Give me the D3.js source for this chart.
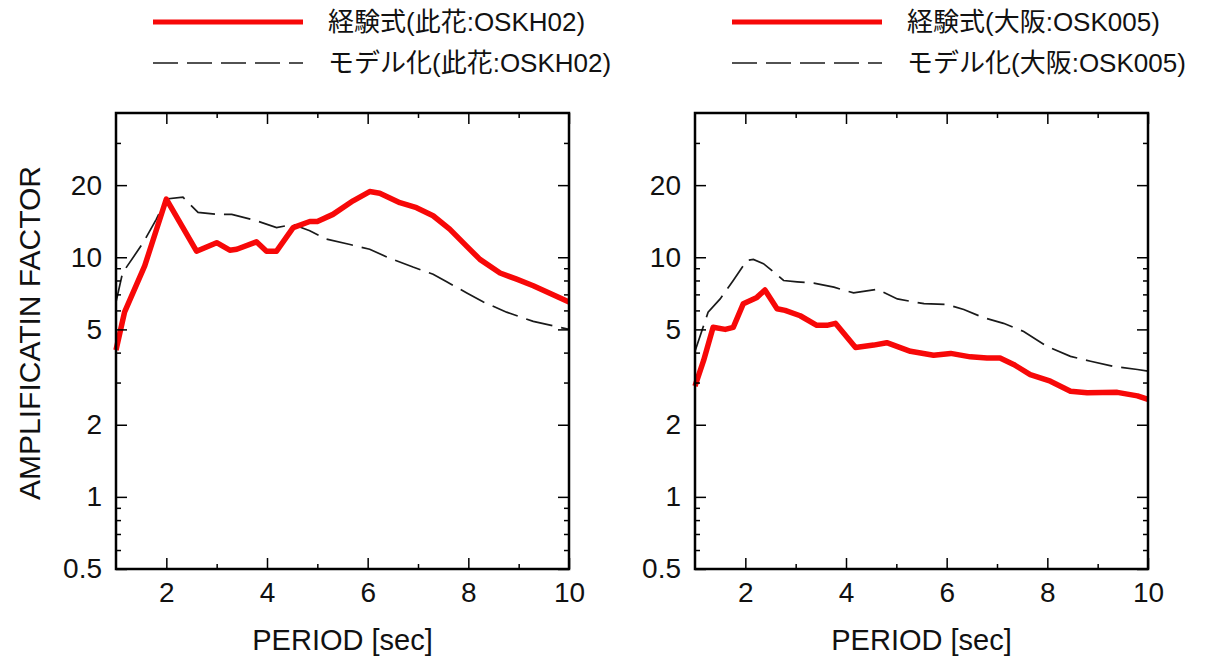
<!DOCTYPE html>
<meta charset="utf-8">
<style>
  body { margin: 0; background: #fff; }
  svg text { font-family: "Liberation Sans", Arial, "Noto Sans CJK JP", sans-serif; fill: #111; }
  .axis .domain { display: none; }
  .axis line { stroke: #000; stroke-width: 1.5; }
  .axis text { font-size: 28px; }
</style>
<body>
<script src="https://d3js.org/d3.v7.min.js"></script>
<script>
  // period (sec) / amplification factor
  var konohanaEmpPeriod = [1.0, 1.17, 1.57, 2.0, 2.6, 3.0, 3.26, 3.4, 3.79, 3.99, 4.19, 4.52, 4.85, 5.0, 5.31, 5.71, 6.04, 6.24, 6.64, 6.97, 7.3, 7.63, 7.97, 8.23, 8.63, 8.96, 9.29, 10.0];
  var konohanaEmpAmp = [4.1, 5.9, 9.2, 17.5, 10.6, 11.5, 10.7, 10.8, 11.6, 10.6, 10.6, 13.3, 14.1, 14.1, 15.1, 17.2, 18.8, 18.5, 16.9, 16.1, 14.9, 13.1, 11.1, 9.8, 8.6, 8.1, 7.6, 6.5];
  var konohanaModPeriod = [1.0, 1.13, 1.54, 1.8, 2.0, 2.33, 2.63, 3.0, 3.3, 3.79, 4.19, 4.52, 4.85, 5.18, 5.65, 6.04, 6.44, 6.9, 7.3, 7.57, 7.97, 8.3, 8.76, 9.29, 10.0];
  var konohanaModAmp = [6.5, 8.6, 11.5, 14.4, 17.5, 17.8, 15.4, 15.1, 15.1, 14.2, 13.3, 13.7, 12.9, 11.9, 11.3, 10.8, 9.9, 9.1, 8.5, 7.9, 7.1, 6.5, 5.9, 5.4, 5.0];

  var osakaEmpPeriod = [1.0, 1.17, 1.36, 1.6, 1.76, 1.96, 2.23, 2.39, 2.63, 2.79, 3.09, 3.42, 3.62, 3.79, 4.19, 4.55, 4.81, 5.28, 5.74, 6.08, 6.47, 6.8, 7.06, 7.33, 7.66, 8.06, 8.46, 8.79, 9.39, 9.79, 10.0];
  var osakaEmpAmp = [2.9, 3.7, 5.1, 5.0, 5.1, 6.4, 6.8, 7.3, 6.1, 6.0, 5.7, 5.2, 5.2, 5.3, 4.2, 4.3, 4.4, 4.05, 3.9, 3.97, 3.84, 3.8, 3.8, 3.57, 3.24, 3.04, 2.76, 2.72, 2.73, 2.64, 2.55];
  var osakaModPeriod = [1.0, 1.26, 1.5, 1.76, 2.03, 2.16, 2.36, 2.53, 2.76, 3.03, 3.36, 3.76, 4.15, 4.62, 5.02, 5.55, 6.01, 6.34, 6.73, 7.13, 7.53, 7.99, 8.46, 8.86, 9.32, 9.79, 10.0];
  var osakaModAmp = [4.05, 5.9, 6.7, 8.0, 9.7, 9.8, 9.4, 8.8, 8.0, 7.9, 7.8, 7.5, 7.1, 7.35, 6.7, 6.4, 6.35, 6.05, 5.6, 5.3, 4.9, 4.25, 3.86, 3.68, 3.5, 3.4, 3.35];

  var xMajor = [2, 4, 6, 8, 10];
  var xMinor = [3, 5, 7, 9];
  var yMajor = [0.5, 1, 2, 5, 10, 20];
  var yMinor = [0.6, 0.7, 0.8, 0.9, 3, 4, 6, 7, 8, 9, 30];

  var panels = [
    { left: 116, empLabel: "経験式(此花:OSKH02)", modLabel: "モデル化(此花:OSKH02)",
      emp: [konohanaEmpPeriod, konohanaEmpAmp], mod: [konohanaModPeriod, konohanaModAmp], yTitle: true },
    { left: 695, empLabel: "経験式(大阪:OSK005)", modLabel: "モデル化(大阪:OSK005)",
      emp: [osakaEmpPeriod, osakaEmpAmp], mod: [osakaModPeriod, osakaModAmp], yTitle: false }
  ];

  var W = 1206, H = 657;
  var plotTop = 113, plotBottom = 569, plotW = 453;

  var svg = d3.select("body").append("svg")
    .attr("width", W)
    .attr("height", H);

  var y = d3.scaleLog().domain([0.5, 40]).range([plotBottom, plotTop]);

  panels.forEach(function (p) {
    var x = d3.scaleLinear().domain([1, 10]).range([0, plotW]);
    var g = svg.append("g").attr("transform", "translate(" + p.left + ",0)");

    var line = d3.line()
      .x(function (d) { return x(d[0]); })
      .y(function (d) { return y(d[1]); });

    var modData = d3.zip(p.mod[0], p.mod[1]);
    var empData = d3.zip(p.emp[0], p.emp[1]);

    g.append("path")
      .datum(modData)
      .attr("d", line)
      .attr("fill", "none")
      .attr("stroke", "#1a1a1a")
      .attr("stroke-width", 1.7)
      .attr("stroke-dasharray", "27,9");

    g.append("path")
      .datum(empData)
      .attr("d", line)
      .attr("fill", "none")
      .attr("stroke", "#f70808")
      .attr("stroke-width", 5.5)
      .attr("stroke-linejoin", "round");

    // bottom axis
    g.append("g").attr("class", "axis")
      .attr("transform", "translate(0," + plotBottom + ")")
      .call(d3.axisBottom(x).tickValues(xMajor).tickSize(-11).tickSizeOuter(0).tickPadding(13).tickFormat(d3.format("d")));
    g.append("g").attr("class", "axis")
      .attr("transform", "translate(0," + plotBottom + ")")
      .call(d3.axisBottom(x).tickValues(xMinor).tickSize(-5).tickSizeOuter(0).tickFormat(""));
    // top axis
    g.append("g").attr("class", "axis")
      .attr("transform", "translate(0," + plotTop + ")")
      .call(d3.axisTop(x).tickValues(xMajor).tickSize(-11).tickSizeOuter(0).tickFormat(""));
    g.append("g").attr("class", "axis")
      .attr("transform", "translate(0," + plotTop + ")")
      .call(d3.axisTop(x).tickValues(xMinor).tickSize(-5).tickSizeOuter(0).tickFormat(""));
    // left axis
    g.append("g").attr("class", "axis")
      .call(d3.axisLeft(y).tickValues(yMajor).tickSize(-11).tickSizeOuter(0).tickPadding(14).tickFormat(d3.format("")));
    g.append("g").attr("class", "axis")
      .call(d3.axisLeft(y).tickValues(yMinor).tickSize(-5).tickSizeOuter(0).tickFormat(""));
    // right axis
    g.append("g").attr("class", "axis")
      .attr("transform", "translate(" + plotW + ",0)")
      .call(d3.axisRight(y).tickValues(yMajor).tickSize(-11).tickSizeOuter(0).tickFormat(""));
    g.append("g").attr("class", "axis")
      .attr("transform", "translate(" + plotW + ",0)")
      .call(d3.axisRight(y).tickValues(yMinor).tickSize(-5).tickSizeOuter(0).tickFormat(""));

    g.append("rect")
      .attr("x", 0).attr("y", plotTop)
      .attr("width", plotW).attr("height", plotBottom - plotTop)
      .attr("fill", "none")
      .attr("stroke", "#000")
      .attr("stroke-width", 2.5);

    g.append("text")
      .attr("x", plotW / 2)
      .attr("y", 650)
      .attr("text-anchor", "middle")
      .style("font-size", "29px")
      .text("PERIOD [sec]");

    if (p.yTitle) {
      g.append("text")
        .attr("transform", "translate(" + (40 - p.left) + ",333) rotate(-90)")
        .attr("text-anchor", "middle")
        .style("font-size", "30px")
        .text("AMPLIFICATIN FACTOR");
    }

    // legend
    var lg = g.append("g").attr("transform", "translate(37,0)");
    lg.append("line")
      .attr("x1", 0).attr("x2", 150).attr("y1", 22).attr("y2", 22)
      .attr("stroke", "#f70808").attr("stroke-width", 5);
    lg.append("line")
      .attr("x1", 0).attr("x2", 150).attr("y1", 63).attr("y2", 63)
      .attr("stroke", "#1a1a1a").attr("stroke-width", 1.6)
      .attr("stroke-dasharray", "25,9");
    lg.append("text")
      .attr("x", 175).attr("y", 22)
      .attr("dy", "0.35em")
      .style("font-size", "26px")
      .text(p.empLabel);
    lg.append("text")
      .attr("x", 175).attr("y", 63)
      .attr("dy", "0.35em")
      .style("font-size", "26px")
      .text(p.modLabel);
  });
</script>
</body>
